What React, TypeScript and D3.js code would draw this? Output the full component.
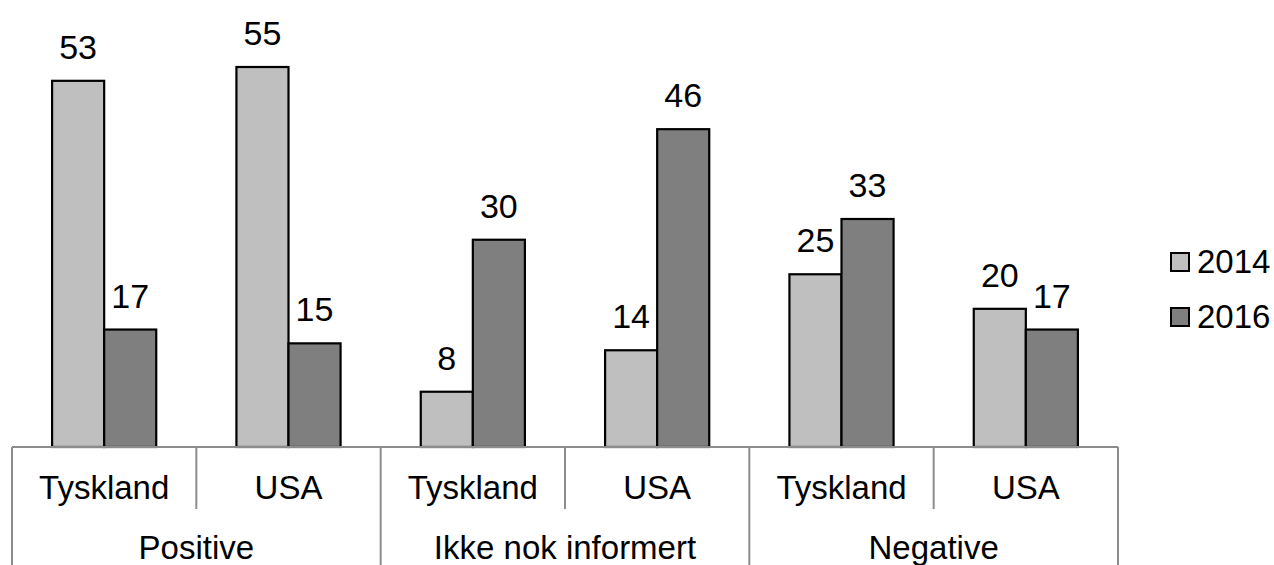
import React from "react";
import * as d3 from "d3";

const groups = ["Positive", "Ikke nok informert", "Negative"];
const countries = ["Tyskland", "USA"];
const seriesNames = ["2014", "2016"];
const values2014 = [53, 55, 8, 14, 25, 20];
const values2016 = [17, 15, 30, 46, 33, 17];
const seriesColors = ["#bfbfbf", "#7f7f7f"];

const W = 1274;
const H = 565;
const FONT = "'Liberation Sans', Arial, sans-serif";

export default function App() {
  const cats = groups.flatMap((g) => countries.map((c) => `${g}|${c}`));
  const x = d3.scaleBand<string>().domain(cats).range([12, 1118]).padding(0);
  const xi = d3
    .scaleBand<string>()
    .domain(seriesNames)
    .range([0, x.bandwidth()])
    .paddingInner(0)
    .paddingOuter(0.77);
  const y = d3.scaleLinear().domain([0, 55]).range([447, 67]);
  const series = [values2014, values2016];
  const gx = d3.scaleBand<string>().domain(groups).range([12, 1118]).padding(0);
  const axisColor = "#8c8c8c";

  return (
    <svg
      width={W}
      height={H}
      style={{ position: "absolute", left: 0, top: 0, background: "#fff" }}
      fontFamily={FONT}
    >
      {cats.map((c, ci) =>
        seriesNames.map((s, si) => {
          const v = series[si][ci];
          const bx = (x(c) as number) + (xi(s) as number);
          return (
            <g key={`${c}-${s}`}>
              <rect
                x={bx}
                y={y(v)}
                width={xi.bandwidth()}
                height={y(0) - y(v)}
                fill={seriesColors[si]}
                stroke="#000"
                strokeWidth={2.2}
              />
              <text
                x={bx + xi.bandwidth() / 2}
                y={y(v) - 22}
                textAnchor="middle"
                fontSize={34}
                fill="#000"
              >
                {v}
              </text>
            </g>
          );
        })
      )}
      {/* axis */}
      <line x1={12} x2={1118} y1={447} y2={447} stroke={axisColor} strokeWidth={2} />
      {groups.map((g) => (
        <line
          key={`gl-${g}`}
          x1={gx(g) as number}
          x2={gx(g) as number}
          y1={447}
          y2={H}
          stroke={axisColor}
          strokeWidth={2}
        />
      ))}
      <line x1={1118} x2={1118} y1={447} y2={H} stroke={axisColor} strokeWidth={2} />
      {groups.map((g) => (
        <line
          key={`sl-${g}`}
          x1={(gx(g) as number) + gx.bandwidth() / 2}
          x2={(gx(g) as number) + gx.bandwidth() / 2}
          y1={447}
          y2={509}
          stroke={axisColor}
          strokeWidth={2}
        />
      ))}
      {cats.map((c, ci) => (
        <text
          key={`cl-${c}`}
          x={(x(c) as number) + x.bandwidth() / 2}
          y={499}
          textAnchor="middle"
          fontSize={33}
          fill="#000"
        >
          {countries[ci % countries.length]}
        </text>
      ))}
      {groups.map((g) => (
        <text
          key={`gt-${g}`}
          x={(gx(g) as number) + gx.bandwidth() / 2}
          y={559}
          textAnchor="middle"
          fontSize={33}
          fill="#000"
        >
          {g}
        </text>
      ))}
      {/* legend */}
      {seriesNames.map((s, si) => (
        <g key={`lg-${s}`} transform={`translate(1171, ${253 + si * 55})`}>
          <rect x={0} y={0} width={18} height={18} fill={seriesColors[si]} stroke="#000" strokeWidth={2} />
          <text x={26} y={20} fontSize={33} fill="#000">
            {s}
          </text>
        </g>
      ))}
    </svg>
  );
}
